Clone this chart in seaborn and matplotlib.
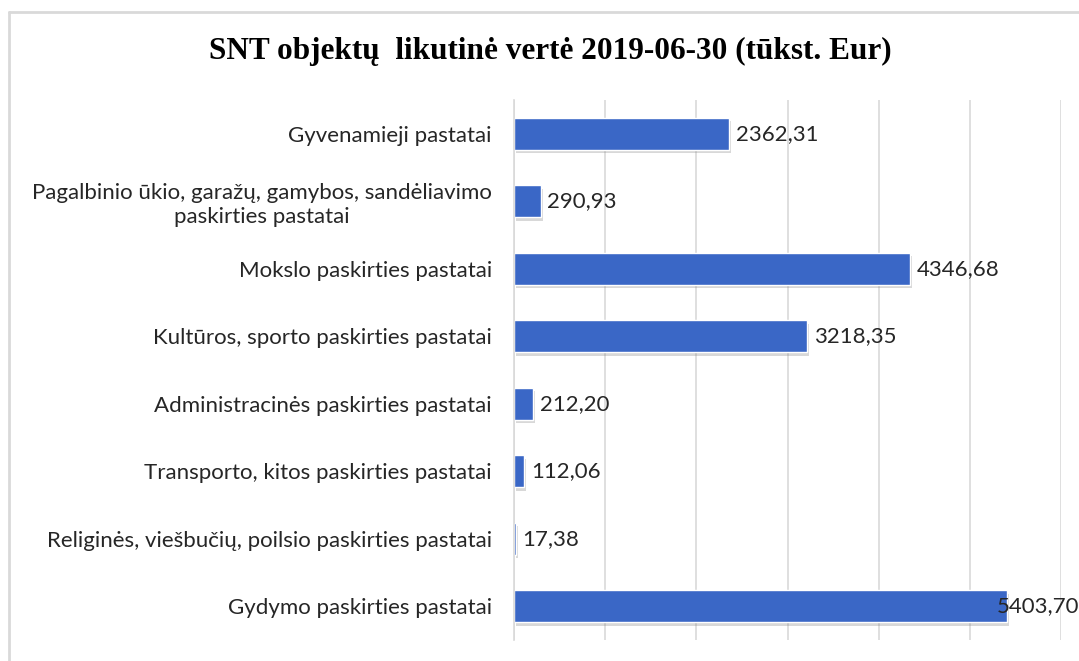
import matplotlib
matplotlib.use("Agg")
import matplotlib.pyplot as plt
import matplotlib.patheffects as pe
from matplotlib.lines import Line2D
import pandas as pd
import seaborn as sns

# data
categories = [
    "Gyvenamieji pastatai",
    "Pagalbinio ūkio, garažų, gamybos, sandėliavimo\npaskirties pastatai",
    "Mokslo paskirties pastatai",
    "Kultūros, sporto paskirties pastatai",
    "Administracinės paskirties pastatai",
    "Transporto, kitos paskirties pastatai",
    "Religinės, viešbučių, poilsio paskirties pastatai",
    "Gydymo paskirties pastatai",
]
values = [2362.31, 290.93, 4346.68, 3218.35, 212.20, 112.06, 17.38, 5403.70]
title = "SNT objektų  likutinė vertė 2019-06-30 (tūkst. Eur)"

df = pd.DataFrame({"category": categories, "value": values})

sns.set_theme(style="white")
plt.rcParams["font.family"] = ["Lato", "DejaVu Sans"]

fig = plt.figure(figsize=(10.79, 6.61), dpi=100)
ax = fig.add_axes([514 / 1079, 1 - 640 / 661, 547 / 1079, 540 / 661])

sns.barplot(data=df, y="category", x="value", orient="h", color="#3a67c6",
            saturation=1, width=0.48, ax=ax)

for bar in ax.patches:
    bar.set_path_effects([pe.SimplePatchShadow(offset=(1.5, -2.5), shadow_rgbFace="#7f7f7f",
                                               alpha=0.3), pe.Normal()])

# value labels, comma as decimal separator
for bar, v in zip(ax.patches, values):
    y = bar.get_y() + bar.get_height() / 2
    pad = -7 if v > 5000 else 5
    ax.annotate(f"{v:.2f}".replace(".", ","), xy=(bar.get_width(), y),
                xytext=(pad, 0), textcoords="offset points",
                ha="left", va="center", fontsize=16, color="#262626",
                annotation_clip=False)

ax.set_xlim(0, 6000)
ax.set_xticks(range(0, 6001, 1000))
ax.set_xticklabels([])
ax.tick_params(axis="x", length=0)
ax.tick_params(axis="y", length=0, pad=16, labelsize=16, labelcolor="#262626")
for lbl in ax.get_yticklabels():
    lbl.set_multialignment("center")
    lbl.set_linespacing(1.25)
ax.grid(axis="x", color="#d9d9d9", linewidth=1.2)
ax.set_axisbelow(True)
for s in ["top", "right", "bottom"]:
    ax.spines[s].set_visible(False)
ax.spines["left"].set_color("#d9d9d9")
ax.spines["left"].set_linewidth(1.2)
ax.set_xlabel("")
ax.set_ylabel("")

fig.text(550 / 1079, 1 - 51 / 661, title, ha="center", va="center",
         fontsize=22.5, fontweight="bold", family="Liberation Serif", color="black")

# outer chart frame (only left and top edges visible in the crop)
fig.add_artist(Line2D([9 / 1079, 9 / 1079], [0, 1 - 12 / 661], color="#d9d9d9", lw=2,
                      transform=fig.transFigure))
fig.add_artist(Line2D([9 / 1079, 1], [1 - 12 / 661, 1 - 12 / 661], color="#d9d9d9", lw=2,
                      transform=fig.transFigure))

fig.savefig("out.png", dpi=100)
